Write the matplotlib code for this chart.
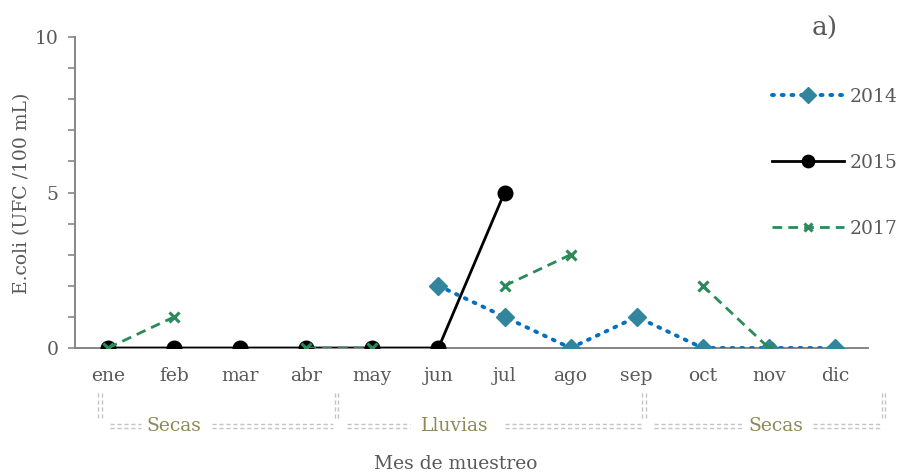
import matplotlib
matplotlib.use("Agg")
import matplotlib.pyplot as plt
import numpy as np
from matplotlib.transforms import blended_transform_factory

months = ["ene", "feb", "mar", "abr", "may", "jun", "jul", "ago", "sep", "oct", "nov", "dic"]
nan = np.nan
y2014 = [nan, nan, nan, nan, nan, 2, 1, 0, 1, 0, 0, 0]
y2015 = [0, 0, 0, 0, 0, 0, 5, nan, nan, nan, nan, nan]
y2017 = [0, 1, nan, 0, 0, nan, 2, 3, nan, 2, 0, nan]
seasons = ["Secas", "Lluvias", "Secas"]
season_bounds = [-0.12, 3.46, 8.11, 11.73]
season_label_x = [1.0, 5.25, 10.1]

plt.rcParams['font.family'] = ['DejaVu Serif']
gray = '#595959'
axis_gray = '#868686'
fs = 13.5

fig = plt.figure(figsize=(9.01, 4.74), dpi=100)
ax = fig.add_axes([75/901, 1-348/474, (868-75)/901, (348-37)/474])

x = np.arange(len(months))
l15, = ax.plot(x, y2015, color='black', lw=2.0, marker='o', ms=10.5, label='2015', zorder=3)
l14, = ax.plot(x, y2014, color='#0070C0', lw=2.8, ls=(0, (0.5, 2.0)), dash_capstyle='round',
               marker='D', ms=9.5, mfc='#31859C', mec='#31859C', label='2014', zorder=4)
l17, = ax.plot(x, y2017, color='#2A8A5A', lw=2.0, ls=(0, (3.5, 2.2)),
               marker='x', ms=7, mew=2.2, label='2017', zorder=5)

ax.set_xlim(-0.5, len(months) - 0.5)
ax.set_ylim(0, 10)
ax.set_xticks(x)
ax.set_xticklabels(months)
ax.set_yticks([0, 5, 10])
ax.set_yticks(np.arange(0, 11, 1), minor=True)
ax.tick_params(axis='x', length=0, pad=14, labelsize=fs, labelcolor=gray)
ax.tick_params(axis='y', which='both', direction='out', length=5, width=1.2, color=axis_gray,
               labelsize=fs, labelcolor=gray, pad=7)
for s in ['top', 'right']:
    ax.spines[s].set_visible(False)
for s in ['left', 'bottom']:
    ax.spines[s].set_color(axis_gray)
    ax.spines[s].set_linewidth(1.4)

fig.text(22/901, 1-193/474, 'E.coli (UFC /100 mL)', rotation=90, fontsize=fs, color=gray,
         ha='center', va='center')
fig.text(456/901, 1-464/474, 'Mes de muestreo', fontsize=fs, color=gray, ha='center', va='center')
fig.text(825/901, 1-28/474, 'a)', fontsize=19, color=gray, ha='center', va='center')

leg = ax.legend(handles=[l14, l15, l17], loc='upper left', bbox_to_anchor=(772/901, 1-88/474),
                bbox_transform=fig.transFigure, frameon=False, fontsize=fs,
                labelspacing=2.55, handlelength=3.85, handletextpad=0.3, borderaxespad=0,
                borderpad=0, markerscale=0.85)
for t in leg.get_texts():
    t.set_color(gray)

# season brackets
tr = blended_transform_factory(ax.transData, fig.transFigure)
bcol = '#C4C4C4'
dash = (0, (3.0, 2.0))
def dline(x0, x1, yy, off=0.0045):
    for d in (-off, off):
        ax.plot([x0, x1], [yy + d, yy + d], transform=tr, color=bcol, lw=1.0,
                ls=dash, clip_on=False)
def vline(xx, y0, y1, off=0.05):
    for d in (-off / 2, off / 2):
        ax.plot([xx + d, xx + d], [y0, y1], transform=tr, color=bcol, lw=1.0,
                ls=dash, clip_on=False)

ytop = 1 - 393/474
ybot = 1 - 418/474
yh = 1 - 426/474
for i, name in enumerate(seasons):
    a, b = season_bounds[i], season_bounds[i + 1]
    vline(a, ybot, ytop)
    mid = season_label_x[i]
    half = 0.47 if name == 'Secas' else 0.65
    dline(a + 0.15, mid - half - 0.03, yh)
    dline(mid + half + 0.1, b - 0.05, yh)
    t = fig.text(0, yh, name, transform=tr, ha='center', va='center', fontsize=fs, color='#8E8A55')
    t.set_x(mid)
vline(season_bounds[-1], ybot, ytop)

fig.savefig('out.png', dpi=100)
